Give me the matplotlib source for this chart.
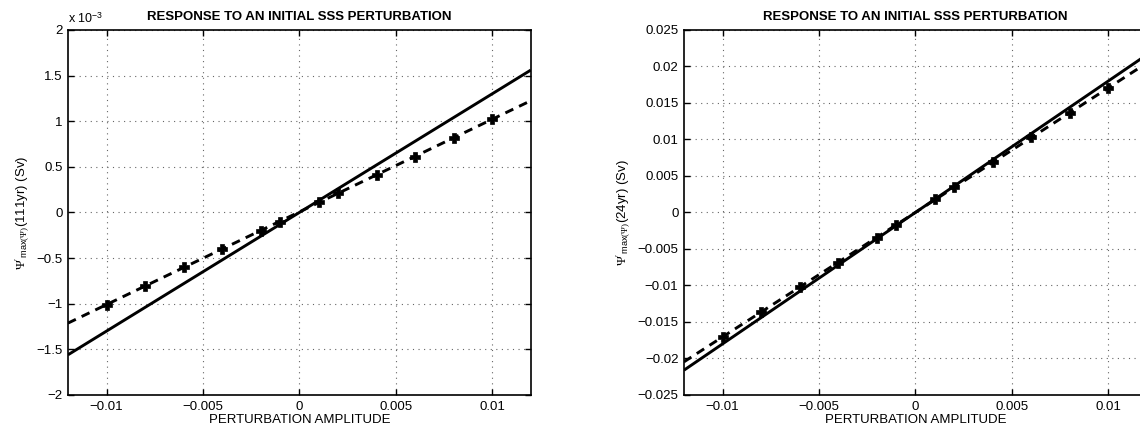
import numpy as np
import matplotlib
matplotlib.use("Agg")
import matplotlib.pyplot as plt
from matplotlib.ticker import FuncFormatter, MultipleLocator

plt.rcParams["font.family"] = ["Liberation Sans", "DejaVu Sans"]
plt.rcParams["mathtext.fontset"] = "custom"
plt.rcParams["mathtext.rm"] = "Liberation Serif"
plt.rcParams["mathtext.sf"] = "Liberation Sans"
plt.rcParams["mathtext.it"] = "Liberation Serif:italic"
plt.rcParams["axes.unicode_minus"] = True

# Perturbation amplitudes applied to the initial SSS field
amplitudes = [-0.01, -0.008, -0.006, -0.004, -0.002, -0.001,
              0.001, 0.002, 0.004, 0.006, 0.008, 0.01]

# Nonlinear model response of the overturning maximum (Sv)
response_111yr = [-1.014e-3, -0.802e-3, -0.601e-3, -0.400e-3, -0.199e-3, -0.100e-3,
                  0.112e-3, 0.210e-3, 0.411e-3, 0.612e-3, 0.820e-3, 1.021e-3]
response_24yr = [-0.0170, -0.01367, -0.01025, -0.00687, -0.00345, -0.00171,
                 0.00181, 0.00345, 0.00688, 0.0103, 0.01359, 0.0170]

# Slope of the tangent-linear (adjoint-derived) response, Sv per unit amplitude
tangent_slope_111yr = 0.130
tangent_slope_24yr = 1.80

xlim = (-0.012, 0.012)
x_ticks = [-0.01, -0.005, 0, 0.005, 0.01]
title = "RESPONSE TO AN INITIAL SSS PERTURBATION"
xlabel = "PERTURBATION AMPLITUDE"

fig = plt.figure(figsize=(11.4, 4.3), dpi=100)
ax_left = fig.add_axes([0.0596, 0.0814, 0.406, 0.849])
ax_right = fig.add_axes([0.600, 0.0814, 0.406, 0.849])

FS = 9.5


def fmt_g(scale):
    def f(v, pos):
        val = round(v * scale, 6) + 0.0
        if abs(val) < 1e-12:
            val = 0.0
        s = "%g" % val
        return s.replace("-", "\u2212")
    return FuncFormatter(f)


def draw_panel(ax, x, y, slope, ylim, ystep, yscale, ylabel):
    x = np.asarray(x)
    y = np.asarray(y)
    xx = np.linspace(xlim[0], xlim[1], 200)
    ax.plot(xx, slope * xx, color="black", lw=2.1, solid_capstyle="butt")
    coef = np.polyfit(x, y, 1)
    ax.plot(xx, np.polyval(coef, xx), color="black", lw=2.1,
            dashes=(3.0, 2.2))
    ax.plot(x, y, linestyle="none", marker="P", ms=7, color="black",
            mec="black", mew=0.5)
    ax.set_xlim(*xlim)
    ax.set_ylim(*ylim)
    ax.set_xticks(x_ticks)
    ax.xaxis.set_major_formatter(fmt_g(1))
    ax.yaxis.set_major_locator(MultipleLocator(ystep))
    ax.yaxis.set_major_formatter(fmt_g(yscale))
    ax.grid(True, color="0.4", linestyle=(0, (1, 4)), linewidth=0.8)
    ax.tick_params(direction="in", length=4, width=1.0, labelsize=FS,
                   top=True, right=True, pad=4)
    for sp in ax.spines.values():
        sp.set_linewidth(1.2)
    ax.set_title(title, fontsize=FS, fontweight="bold", pad=7)
    ax.set_xlabel(xlabel, fontsize=FS, labelpad=1)
    ax.set_ylabel(ylabel, fontsize=FS, labelpad=4)


draw_panel(ax_left, amplitudes, response_111yr, tangent_slope_111yr,
           (-2e-3, 2e-3), 0.5e-3, 1e3,
           r"$\Psi'_{\mathsf{max}(\Psi)}$(111yr) (Sv)")
ax_left.text(0.0, 1.012, "x 10$^{\\mathsf{\u22123}}$", transform=ax_left.transAxes,
             fontsize=FS - 0.5, ha="left", va="bottom")

draw_panel(ax_right, amplitudes, response_24yr, tangent_slope_24yr,
           (-0.025, 0.025), 0.005, 1,
           r"$\Psi'_{\mathsf{max}(\Psi)}$(24yr) (Sv)")

fig.savefig("out.png", dpi=100)
